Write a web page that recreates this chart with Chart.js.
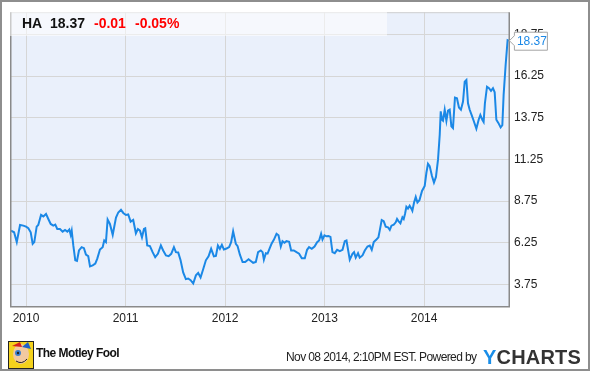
<!DOCTYPE html>
<html><head><meta charset="utf-8">
<script src="https://cdn.jsdelivr.net/npm/chart.js@4/dist/chart.umd.min.js"></script>
<style>
html,body{margin:0;padding:0;background:#fff;}
#wrap{position:relative;width:590px;height:371px;overflow:hidden;font-family:"Liberation Sans",Arial,sans-serif;}
#c{position:absolute;left:0;top:0;}
.hdr{position:absolute;left:10px;top:10px;width:377px;height:26px;background:rgba(255,255,255,0.55);}
.hdr span{position:absolute;top:5px;font-weight:bold;font-size:14px;line-height:16px;white-space:nowrap;}
.foot{position:absolute;white-space:nowrap;color:#222;}
</style>
</head><body>
<div id="wrap">
<canvas id="c" width="590" height="371"></canvas>
<div class="hdr">
  <span id="tk" style="left:12px;color:#111"></span>
  <span id="lp" style="left:40px;color:#111"></span>
  <span id="ch" style="left:84px;color:#f00"></span>
  <span id="pc" style="left:125px;color:#f00"></span>
</div>
<div class="foot" id="mf" style="left:36px;top:346px;font-size:12px;font-weight:bold;letter-spacing:-0.55px;color:#111;">The Motley Fool</div>
<div class="foot" id="ts" style="left:286px;top:350px;font-size:12px;letter-spacing:-0.6px;"></div>
<div class="foot" style="left:483px;top:345px;font-size:20px;font-weight:bold;letter-spacing:0.2px;line-height:24px;"><span style="color:#1a8ee8">Y</span><span style="color:#333">CHARTS</span></div>
</div>
<script>
// ---- header values ----
const ticker = "HA";
const lastPrice = "18.37";
const change = "-0.01";
const changePct = "-0.05%";
const timestamp = "Nov 08 2014, 2:10PM EST. Powered by";

// ---- axis ticks ----
const yearTicks = [2010, 2011, 2012, 2013, 2014];
const yearLabels = ["2010", "2011", "2012", "2013", "2014"];
const priceTicks = [3.75, 6.25, 8.75, 11.25, 13.75, 16.25, 18.75];
const priceLabels = ["3.75", "6.25", "8.75", "11.25", "13.75", "16.25", "18.75"];

// ---- series (decimal year, price) ----
const dates = [
2009.849,2009.880,2009.907,2009.940,2009.973,2010.000,2010.023,2010.047,2010.067,2010.083,
2010.107,2010.123,2010.151,2010.174,2010.201,2010.224,2010.248,2010.274,2010.294,2010.314,
2010.341,2010.368,2010.392,2010.415,2010.435,2010.449,2010.459,2010.475,2010.495,2010.512,
2010.532,2010.559,2010.582,2010.602,2010.625,2010.643,2010.670,2010.696,2010.716,2010.743,
2010.770,2010.786,2010.803,2010.820,2010.843,2010.871,2010.904,2010.927,2010.954,2010.977,
2011.004,2011.027,2011.051,2011.077,2011.104,2011.124,2011.145,2011.165,2011.185,2011.198,
2011.218,2011.245,2011.272,2011.298,2011.325,2011.355,2011.378,2011.406,2011.433,2011.459,
2011.486,2011.506,2011.529,2011.553,2011.579,2011.606,2011.629,2011.654,2011.680,2011.707,
2011.730,2011.754,2011.780,2011.807,2011.834,2011.860,2011.888,2011.908,2011.928,2011.948,
2011.968,2011.988,2012.015,2012.041,2012.061,2012.081,2012.108,2012.126,2012.149,2012.176,
2012.202,2012.236,2012.262,2012.282,2012.309,2012.332,2012.359,2012.377,2012.390,2012.410,
2012.427,2012.450,2012.467,2012.490,2012.517,2012.537,2012.560,2012.577,2012.597,2012.617,
2012.644,2012.664,2012.691,2012.718,2012.744,2012.771,2012.801,2012.824,2012.844,2012.871,
2012.899,2012.925,2012.945,2012.965,2012.979,2012.999,2013.019,2013.039,2013.059,2013.079,
2013.102,2013.126,2013.153,2013.180,2013.203,2013.220,2013.240,2013.253,2013.280,2013.296,
2013.313,2013.336,2013.353,2013.381,2013.404,2013.431,2013.454,2013.474,2013.494,2013.521,
2013.541,2013.554,2013.574,2013.594,2013.614,2013.637,2013.655,2013.672,2013.695,2013.715,
2013.728,2013.742,2013.762,2013.782,2013.795,2013.808,2013.822,2013.838,2013.855,2013.872,
2013.882,2013.899,2013.916,2013.933,2013.953,2013.979,2014.006,2014.023,2014.039,2014.056,
2014.079,2014.099,2014.119,2014.140,2014.157,2014.167,2014.180,2014.190,2014.207,2014.224,
2014.240,2014.257,2014.274,2014.290,2014.310,2014.330,2014.350,2014.370,2014.391,2014.408,
2014.425,2014.441,2014.458,2014.478,2014.498,2014.525,2014.548,2014.565,2014.585,2014.598,
2014.611,2014.632,2014.652,2014.672,2014.692,2014.709,2014.726,2014.746,2014.769,2014.786,
2014.799,2014.819,2014.839,2014.852
];
const prices = [
6.98,6.88,6.29,7.32,7.28,7.22,7.12,6.88,6.19,6.29,
7.22,7.32,7.92,7.83,7.98,7.68,7.38,7.28,7.34,7.08,
7.08,6.92,7.02,6.92,7.05,6.73,6.98,6.09,5.20,5.16,
5.79,5.99,5.93,5.54,5.45,4.84,4.90,5.00,5.30,5.85,
5.99,6.39,6.29,7.64,7.38,6.73,7.77,8.07,8.23,8.04,
7.92,7.95,7.52,7.62,6.82,7.08,6.98,6.58,7.08,7.12,
6.09,6.05,5.69,5.39,5.59,6.09,5.79,5.49,5.45,5.59,
5.99,5.69,5.67,5.20,4.47,4.07,4.11,4.01,3.81,4.30,
4.44,4.17,4.66,5.20,5.44,5.89,5.44,5.46,6.09,5.89,
6.13,5.85,5.91,5.99,6.29,6.94,6.19,6.05,5.54,5.10,
5.10,5.26,5.14,5.05,5.10,5.69,5.79,5.69,5.24,5.63,
5.60,5.95,6.19,6.43,6.79,6.70,6.03,6.35,6.25,6.35,
6.31,5.79,5.79,5.69,5.60,5.33,5.33,5.83,5.99,5.89,
6.03,6.29,6.39,6.79,6.45,6.70,6.64,6.66,6.60,5.69,
5.63,5.83,5.75,5.83,6.35,6.39,5.69,5.24,5.59,5.69,
5.36,5.63,5.36,5.49,5.79,6.03,6.09,5.83,6.29,6.45,
6.58,6.98,7.62,7.55,7.22,7.18,7.02,7.28,7.34,7.48,
7.68,7.55,7.42,7.78,7.68,7.98,8.41,8.30,8.47,8.30,
8.17,8.67,9.00,8.67,8.80,9.36,9.66,10.45,10.99,10.85,
10.26,9.86,10.20,11.25,12.74,14.13,13.63,13.57,14.23,13.57,
14.17,14.23,13.23,13.13,14.96,14.92,14.36,14.23,14.72,15.91,
16.01,14.62,14.23,13.91,13.57,13.09,13.63,13.91,13.63,13.50,
14.62,15.61,15.52,15.36,15.52,15.28,13.63,13.44,13.17,13.30,
15.12,16.90,18.40,18.37
];

document.getElementById('tk').textContent = ticker;
document.getElementById('lp').textContent = lastPrice;
document.getElementById('ch').textContent = change;
document.getElementById('pc').textContent = changePct;
document.getElementById('ts').textContent = timestamp;

const LINE = '#1b88e6';
const FONT = '"Liberation Sans", Arial, sans-serif';

const deco = {
  id: 'deco',
  beforeDraw(chart) {
    const {ctx, chartArea: a} = chart;
    ctx.save();
    ctx.fillStyle = '#fff';
    ctx.fillRect(0, 0, chart.width, chart.height);
    ctx.fillStyle = '#eaf0fb';
    ctx.fillRect(a.left, a.top, a.right - a.left, a.bottom - a.top);
    ctx.restore();
  },
  afterDraw(chart) {
    const {ctx, chartArea: a} = chart;
    ctx.save();
    // plot frame
    ctx.strokeStyle = '#cfcfcf'; ctx.lineWidth = 1;
    ctx.beginPath(); ctx.moveTo(a.left, a.top + 0.5); ctx.lineTo(a.right, a.top + 0.5); ctx.stroke();
    ctx.strokeStyle = '#8a8a8a'; ctx.lineWidth = 1.5;
    ctx.beginPath();
    ctx.moveTo(a.left + 0.75, a.top); ctx.lineTo(a.left + 0.75, a.bottom + 0.75);
    ctx.lineTo(a.right + 0.25, a.bottom + 0.75); ctx.lineTo(a.right + 0.25, a.top);
    ctx.stroke();
    // outer border
    ctx.strokeStyle = '#8e8e8e'; ctx.lineWidth = 2;
    ctx.strokeRect(1, 1, chart.width - 2, chart.height - 2);
    // last-price tag
    const xs = chart.scales.x, ys = chart.scales.y;
    const n = prices.length - 1;
    const px = xs.getPixelForValue(dates[n]);
    const py = ys.getPixelForValue(prices[n]);
    const bx = px + 5, bw = 33, bh = 18, by = py - 9;
    ctx.beginPath();
    ctx.moveTo(px + 0.5, py);
    ctx.lineTo(bx + 0.5, py - 5);
    ctx.lineTo(bx + 0.5, by + 0.5);
    ctx.lineTo(bx + bw + 0.5, by + 0.5);
    ctx.lineTo(bx + bw + 0.5, by + bh + 0.5);
    ctx.lineTo(bx + 0.5, by + bh + 0.5);
    ctx.lineTo(bx + 0.5, py + 5);
    ctx.closePath();
    ctx.fillStyle = '#fff'; ctx.fill();
    ctx.strokeStyle = '#a5a5a5'; ctx.lineWidth = 1; ctx.stroke();
    ctx.fillStyle = LINE; ctx.font = '12px ' + FONT;
    ctx.textBaseline = 'middle'; ctx.textAlign = 'left';
    ctx.fillText(lastPrice, bx + 3, py + 1);
    // Motley Fool jester icon (approximation)
    const lx = 8, ly = 341;
    ctx.fillStyle = '#f4d21c'; ctx.fillRect(lx, ly, 25, 27);
    ctx.fillStyle = '#f2c9a0';
    ctx.beginPath(); ctx.ellipse(lx + 13, ly + 13, 8, 10, 0, 0, Math.PI * 2); ctx.fill();
    ctx.fillStyle = '#d62020'; ctx.beginPath(); ctx.moveTo(lx + 4, ly + 5); ctx.lineTo(lx + 12, ly + 1); ctx.lineTo(lx + 14, ly + 6); ctx.closePath(); ctx.fill();
    ctx.fillStyle = '#2060c8'; ctx.beginPath(); ctx.moveTo(lx + 14, ly + 6); ctx.lineTo(lx + 20, ly + 1); ctx.lineTo(lx + 23, ly + 8); ctx.closePath(); ctx.fill();
    ctx.fillStyle = '#3a7fd0'; ctx.beginPath(); ctx.arc(lx + 10, ly + 12, 3, 0, Math.PI * 2); ctx.fill();
    ctx.fillStyle = '#222'; ctx.beginPath(); ctx.arc(lx + 10, ly + 12, 1.2, 0, Math.PI * 2); ctx.fill();
    ctx.strokeStyle = '#222'; ctx.lineWidth = 1;
    ctx.beginPath(); ctx.moveTo(lx + 8, ly + 20); ctx.quadraticCurveTo(lx + 14, ly + 24, lx + 19, ly + 18); ctx.stroke();
    ctx.strokeRect(lx + 0.5, ly + 0.5, 25, 27);
    ctx.restore();
  }
};

new Chart(document.getElementById('c'), {
  type: 'line',
  data: {
    datasets: [{
      data: dates.map((d, i) => ({x: d, y: prices[i]})),
      borderColor: LINE,
      borderWidth: 2,
      pointRadius: 0,
      tension: 0,
      fill: false
    }]
  },
  options: {
    responsive: false,
    animation: false,
    devicePixelRatio: 1,
    layout: {padding: {left: 10, top: 10, right: 0, bottom: 0}},
    plugins: {legend: {display: false}, tooltip: {enabled: false}},
    scales: {
      x: {
        type: 'linear',
        min: 2009.839,
        max: 2014.853,
        afterBuildTicks: s => { s.ticks = yearTicks.map(v => ({value: v})); },
        afterFit: s => { s.height = 65; },
        grid: {color: '#d6d6d6', drawTicks: false},
        border: {display: false},
        ticks: {
          autoSkip: false, maxRotation: 0, padding: 5,
          color: '#222', font: {family: FONT, size: 12},
          callback: v => yearLabels[yearTicks.indexOf(v)]
        }
      },
      y: {
        type: 'linear',
        position: 'right',
        min: 2.46,
        max: 20.08,
        afterBuildTicks: s => { s.ticks = priceTicks.map(v => ({value: v})); },
        afterFit: s => { s.width = 81; },
        grid: {color: '#d6d6d6', drawTicks: false},
        border: {display: false},
        ticks: {
          padding: 5,
          color: '#222', font: {family: FONT, size: 12},
          callback: v => priceLabels[priceTicks.indexOf(v)]
        }
      }
    }
  },
  plugins: [deco]
});
</script>
</body></html>
